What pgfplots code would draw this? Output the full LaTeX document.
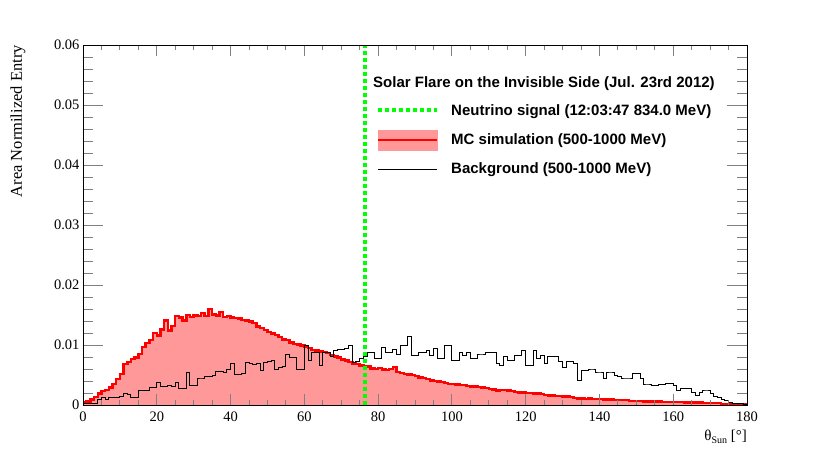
\documentclass[border=0pt]{standalone}
\usepackage{fontspec}
\setmainfont{Liberation Serif}
\newfontfamily\helv{Liberation Sans}
\usepackage{pgfplots}
\pgfplotsset{compat=1.18}
\usepackage{pgfplotstable}

\definecolor{mcfill}{RGB}{255,153,153}
\definecolor{nugreen}{RGB}{0,255,0}

% MC simulation, 1 degree bins (value held until next x)
\pgfplotstableread{
x y
0 0.0004
1 0.0006
2 0.0009
3 0.0013
4 0.0019
5 0.0023
6 0.0025
7 0.0029
8 0.0035
9 0.0043
10 0.0052
11 0.0068
12 0.0072
13 0.0077
14 0.0079
15 0.0085
16 0.0097
17 0.0103
18 0.0108
19 0.0120
20 0.0116
21 0.0126
22 0.0141
23 0.0124
24 0.0132
25 0.0148
26 0.0146
27 0.0141
28 0.0150
29 0.0147
30 0.0149
31 0.0148
32 0.0153
33 0.0148
34 0.0160
35 0.0151
36 0.0149
37 0.0155
38 0.0147
39 0.0148
40 0.0146
41 0.0145
42 0.0144
43 0.0142
44 0.0141
45 0.0139
46 0.0137
47 0.0131
48 0.0128
49 0.0125
50 0.0122
51 0.0119
52 0.0117
53 0.0113
54 0.0109
55 0.0108
56 0.0104
57 0.0102
58 0.0101
59 0.0099
60 0.0097
61 0.0095
62 0.0092
63 0.0091
64 0.0089
65 0.0088
66 0.0087
67 0.0083
68 0.0081
69 0.0079
70 0.0076
71 0.0074
72 0.0072
73 0.0069
74 0.0068
75 0.0066
76 0.0065
77 0.0064
78 0.0061
79 0.0060
80 0.0062
81 0.0059
82 0.0058
83 0.0060
84 0.0063
85 0.0055
86 0.0053
87 0.0052
88 0.0051
89 0.0050
90 0.0048
91 0.0046
92 0.0045
93 0.0043
94 0.0041
95 0.0040
96 0.0039
97 0.0038
98 0.0037
99 0.0035
100 0.0035
101 0.0034
102 0.0033
103 0.0033
104 0.0032
105 0.0031
106 0.0031
107 0.0030
108 0.0029
109 0.0028
110 0.0027
111 0.0026
112 0.0024
113 0.0025
114 0.0025
115 0.0024
116 0.0023
117 0.0022
118 0.0021
119 0.0021
120 0.0020
121 0.0020
122 0.0019
123 0.0019
124 0.0018
125 0.0017
126 0.0016
127 0.0016
128 0.0015
129 0.0015
130 0.0014
131 0.0014
132 0.0013
133 0.0012
134 0.0011
135 0.0011
136 0.0010
137 0.0011
138 0.0010
139 0.0010
140 0.0010
141 0.0009
142 0.0009
143 0.0009
144 0.0008
145 0.0008
146 0.0008
147 0.0008
148 0.0007
149 0.0007
150 0.0007
151 0.0007
152 0.0006
153 0.0006
154 0.0006
155 0.0006
156 0.0006
157 0.0005
158 0.0005
159 0.0005
160 0.0005
161 0.0005
162 0.0005
163 0.0004
164 0.0004
165 0.0004
166 0.0004
167 0.0004
168 0.0003
169 0.0003
170 0.0003
171 0.0003
172 0.0003
173 0.0002
174 0.0002
175 0.0002
176 0.0002
177 0.0001
178 0.0001
179 0.0001
180 0.0001
}\mctab

% background, same binning
\pgfplotstableread{
x y
0 0.0002
1 0.0002
2 0.0003
3 0.0003
4 0.0010
5 0.0013
6 0.0010
7 0.0013
8 0.0013
9 0.0013
10 0.0014
11 0.0019
12 0.0018
13 0.0013
14 0.0013
15 0.0025
16 0.0024
17 0.0025
18 0.0029
19 0.0029
20 0.0038
21 0.0031
22 0.0031
23 0.0032
24 0.0031
25 0.0038
26 0.0027
27 0.0027
28 0.0055
29 0.0033
30 0.0033
31 0.0045
32 0.0045
33 0.0048
34 0.0048
35 0.0049
36 0.0056
37 0.0056
38 0.0055
39 0.0060
40 0.0069
41 0.0051
42 0.0051
43 0.0052
44 0.0071
45 0.0069
46 0.0068
47 0.0069
48 0.0058
49 0.0071
50 0.0072
51 0.0075
52 0.0060
53 0.0063
54 0.0064
55 0.0084
56 0.0079
57 0.0080
58 0.0059
59 0.0059
60 0.0099
61 0.0074
62 0.0088
63 0.0088
64 0.0066
65 0.0088
66 0.0087
67 0.0081
68 0.0091
69 0.0092
70 0.0093
71 0.0094
72 0.0099
73 0.0071
74 0.0072
75 0.0077
76 0.0081
77 0.0088
78 0.0088
79 0.0077
80 0.0078
81 0.0096
82 0.0088
83 0.0088
84 0.0092
85 0.0085
86 0.0099
87 0.0099
88 0.0114
89 0.0083
90 0.0083
91 0.0088
92 0.0088
93 0.0091
94 0.0083
95 0.0094
96 0.0077
97 0.0077
98 0.0099
99 0.0099
100 0.0074
101 0.0074
102 0.0088
103 0.0083
104 0.0088
105 0.0077
106 0.0077
107 0.0085
108 0.0085
109 0.0088
110 0.0088
111 0.0088
112 0.0069
113 0.0066
114 0.0081
115 0.0074
116 0.0074
117 0.0083
118 0.0083
119 0.0091
120 0.0066
121 0.0066
122 0.0091
123 0.0077
124 0.0083
125 0.0070
126 0.0081
127 0.0081
128 0.0081
129 0.0072
130 0.0063
131 0.0072
132 0.0072
133 0.0070
134 0.0041
135 0.0058
136 0.0058
137 0.0060
138 0.0060
139 0.0055
140 0.0055
141 0.0044
142 0.0055
143 0.0055
144 0.0050
145 0.0047
146 0.0045
147 0.0045
148 0.0045
149 0.0052
150 0.0052
151 0.0044
152 0.0035
153 0.0035
154 0.0033
155 0.0033
156 0.0034
157 0.0034
158 0.0036
159 0.0036
160 0.0033
161 0.0024
162 0.0028
163 0.0028
164 0.0028
165 0.0021
166 0.0016
167 0.0021
168 0.0025
169 0.0025
170 0.0019
171 0.0015
172 0.0013
173 0.0010
174 0.0008
175 0.0005
176 0.0003
177 0.0003
178 0.0002
179 0.0001
180 0.0001
}\bgtab

\newcommand{\legfont}{\helv\bfseries\fontsize{15bp}{18bp}\selectfont}

\begin{document}
\begin{tikzpicture}
\path[use as bounding box] (-83bp,-45bp) rectangle (747bp,405bp);
\begin{axis}[
  at={(0,0)}, anchor=south west,
  scale only axis, width=664bp, height=360bp,
  xmin=0, xmax=180, ymin=0, ymax=0.06,
  axis on top,
  axis line style={line width=0.9bp},
  tick align=inside,
  xtick={0,20,...,180}, minor x tick num=3,
  ytick={0,0.01,0.02,0.03,0.04,0.05,0.06},
  yticklabels={0,0.01,0.02,0.03,0.04,0.05,0.06},
  minor y tick num=4,
  scaled y ticks=false,
  xtick style={line width=0.9bp, /pgfplots/major tick length=10.8bp, /pgfplots/minor tick length=5.4bp},
  ytick style={line width=0.9bp, /pgfplots/major tick length=20bp, /pgfplots/minor tick length=10bp},
  /pgf/number format/assume math mode=true,
  ticklabel style={font=\fontsize{14.5bp}{16bp}\selectfont},
  xticklabel style={yshift=-3bp},
  every axis y label/.style={at={(axis description cs:-0.098,1)}, rotate=90, anchor=east,
    inner sep=0pt, font=\fontsize{16.5bp}{18bp}\selectfont},
  every axis x label/.style={at={(axis description cs:1,-0.089)}, anchor=east,
    inner sep=0pt, font=\fontsize{15bp}{17bp}\selectfont},
  ylabel={Area Normilized Entry},
  xlabel={θ\raisebox{-0.4ex}{\fontsize{10bp}{10bp}\selectfont Sun}\ [°]},
  legend style={draw=none, fill=none, inner sep=0pt,
    at={(axis description cs:0.4413,0.836)}, anchor=north west,
    font=\legfont, row sep=13bp, column sep=12bp,
    nodes={inner sep=0pt}},
  legend cell align=left,
]
\addplot[draw=none, fill=mcfill, const plot, forget plot] table[x=x,y=y] {\mctab} \closedcycle;
\addplot[red, line width=2.5bp, const plot, forget plot] table[x=x,y=y] {\mctab};
\addplot[black, line width=1bp, const plot, forget plot] table[x=x,y=y] {\bgtab};
\addplot[nugreen, line width=4bp, dash pattern=on 4bp off 3bp, forget plot] coordinates {(76.4,0) (76.4,0.06)};

\addlegendimage{legend image code/.code={\draw[nugreen, line width=4bp, dash pattern=on 4bp off 3bp] (0bp,0bp) -- (59bp,0bp);}}
\addlegendentry{Neutrino signal (12:03:47 834.0 MeV)}
\addlegendimage{legend image code/.code={\fill[mcfill] (0bp,-10bp) rectangle (59bp,10bp); \draw[red, line width=2.4bp] (0bp,0bp) -- (59bp,0bp);}}
\addlegendentry{MC simulation (500-1000 MeV)}
\addlegendimage{legend image code/.code={\draw[black, line width=0.8bp] (0bp,0bp) -- (59bp,0bp);}}
\addlegendentry{Background (500-1000 MeV)}

\node[anchor=west, inner sep=0pt, font=\legfont] at (axis description cs:0.4367,0.894) {Solar Flare on the Invisible Side (Jul. 23rd 2012)};
\end{axis}
\end{tikzpicture}
\end{document}
